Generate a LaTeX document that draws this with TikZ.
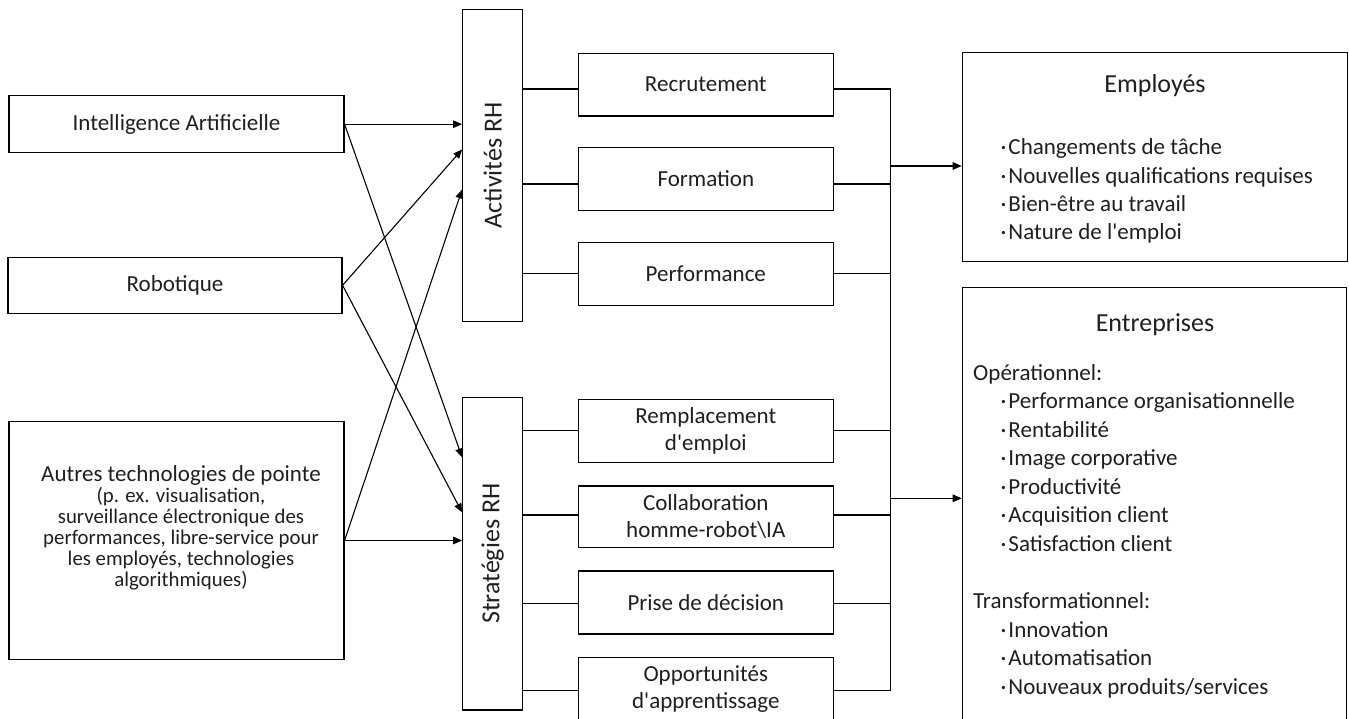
\documentclass[tikz,border=0pt]{standalone}
\usepackage{fontspec}
\usepackage{graphicx}
\setmainfont{Carlito}
\usetikzlibrary{arrows.meta,calc}
\newcommand\mybul{\makebox[10pt][c]{·}}
\begin{document}
\begin{tikzpicture}[x=1pt,y=-1pt,
  every node/.style={text=black!88},
  box/.style={draw=black, line width=1.15pt, inner sep=0pt, align=center, font=\fontsize{23}{27}\selectfont},
  arr/.style={line width=1.1pt, -{Triangle[length=9pt,width=7.5pt]}},
  ln/.style={line width=1.1pt},
  item/.style={anchor=base west, inner sep=0pt, font=\fontsize{23}{28}\selectfont},
  ttl/.style={anchor=base, inner sep=0pt, font=\fontsize{26}{30}\selectfont},
  vtxt/.style={font=\fontsize{26}{30}\selectfont}
]
\useasboundingbox (0,0) rectangle (1349,719);

% left boxes
\node[box, minimum width=335pt, minimum height=57pt] (ia) at (176.5,124.2) {Intelligence Artificielle};
\node[box, minimum width=334pt, minimum height=56pt] (rob) at (175,285.3) {Robotique};
\node[box, minimum width=335pt, minimum height=237.6pt] (aut) at (176.5,540.5) {};
\node[inner sep=0pt, align=center, font=\fontsize{20.8}{21}\selectfont] (autT) at (181,527.5)
  {{\fontsize{23}{21}\selectfont Autres technologies de pointe}\\(p. ex. visualisation,\\surveillance électronique des\\performances, libre-service pour\\les employés, technologies\\algorithmiques)};

% vertical boxes
\node[box, vtxt, minimum width=60pt, minimum height=312.4pt] (act) at (492.7,165.5) {\rotatebox{90}{Activités RH}};
\node[box, vtxt, minimum width=60pt, minimum height=312.7pt] (strat) at (492.7,553.7) {\rotatebox{90}{Stratégies RH}};

% middle boxes
\node[box, minimum width=255pt, minimum height=62.7pt] (rec) at (705.8,84.7) {Recrutement};
\node[box, minimum width=255pt, minimum height=63.4pt] (frm) at (705.8,179) {Formation};
\node[box, minimum width=255pt, minimum height=63pt] (perf) at (705.8,274.2) {Performance};
\node[box, minimum width=255pt, minimum height=63.4pt] (rem) at (705.8,431) {Remplacement\\d\textquotesingle emploi};
\node[box, minimum width=255pt, minimum height=61.7pt] (col) at (705.8,516.9) {Collaboration\\homme-robot\textbackslash IA};
\node[box, minimum width=255pt, minimum height=63pt] (pri) at (705.8,602.5) {Prise de décision};
\node[box, minimum width=255pt, minimum height=63.4pt] (opp) at (705.8,689) {Opportunités\\d\textquotesingle apprentissage};

% right boxes
\node[box, minimum width=385pt, minimum height=209.4pt] (emp) at (1154.8,157) {};
\node[box, minimum width=384.4pt, minimum height=452pt] (ent) at (1154.5,513.3) {};

% Employés text
\node[ttl] (empT) at (1155,93) {Employés};
\node[item] (e1) at (998.3,155) {\mybul Changements de tâche};
\node[item] (e2) at (998.3,183.3) {\mybul Nouvelles qualifications requises};
\node[item] (e3) at (998.3,211.7) {\mybul Bien-être au travail};
\node[item] (e4) at (998.3,240) {\mybul Nature de l\textquotesingle emploi};

% Entreprises text
\node[ttl] (entT) at (1155,331.5) {Entreprises};
\node[item] (op) at (973,380.7) {Opérationnel:};
\node[item] (o1) at (998.3,408.5) {\mybul Performance organisationnelle};
\node[item] (o2) at (998.3,437) {\mybul Rentabilité};
\node[item] (o3) at (998.3,465.5) {\mybul Image corporative};
\node[item] (o4) at (998.3,494) {\mybul Productivité};
\node[item] (o5) at (998.3,522.5) {\mybul Acquisition client};
\node[item] (o6) at (998.3,551) {\mybul Satisfaction client};
\node[item] (tr) at (973,608.3) {Transformationnel:};
\node[item] (t1) at (998.3,637) {\mybul Innovation};
\node[item] (t2) at (998.3,665.5) {\mybul Automatisation};
\node[item] (t3) at (998.3,694) {\mybul Nouveaux produits/services};

% entry points
\coordinate (a2) at ($(act.north west)+(0,140.7)$);
\coordinate (a3) at ($(act.north west)+(0,180.7)$);
\coordinate (s1) at ($(strat.north west)+(0,60.65)$);
\coordinate (s2) at ($(strat.north west)+(0,115.65)$);

\draw[arr] (ia.east) -- (ia.east -| act.west);
\draw[arr] (ia.east) -- (s1);
\draw[arr] (rob.east) -- (a2);
\draw[arr] (rob.east) -- (s2);
\draw[arr] (aut.east) -- (a3);
\draw[arr] (aut.east) -- (aut.east -| strat.west);

% bus
\coordinate (bus) at (890.7,0);
\foreach \n/\y/\s in {rec/89/act, frm/184/act, perf/273.3/act, rem/430.7/strat, col/515/strat, pri/603.3/strat, opp/690.7/strat}{
  \coordinate (y\n) at (0,\y);
  \draw[ln] (\s.east |- y\n) -- (\n.west |- y\n);
  \draw[ln] (\n.east |- y\n) -- (bus |- y\n);
}
\draw[ln] (bus |- yrec) -- (bus |- yopp);
\coordinate (yemp) at (0,166);
\coordinate (yent) at (0,498.3);
\draw[arr] (bus |- yemp) -- (emp.west |- yemp);
\draw[arr] (bus |- yent) -- (ent.west |- yent);
\end{tikzpicture}
\end{document}
